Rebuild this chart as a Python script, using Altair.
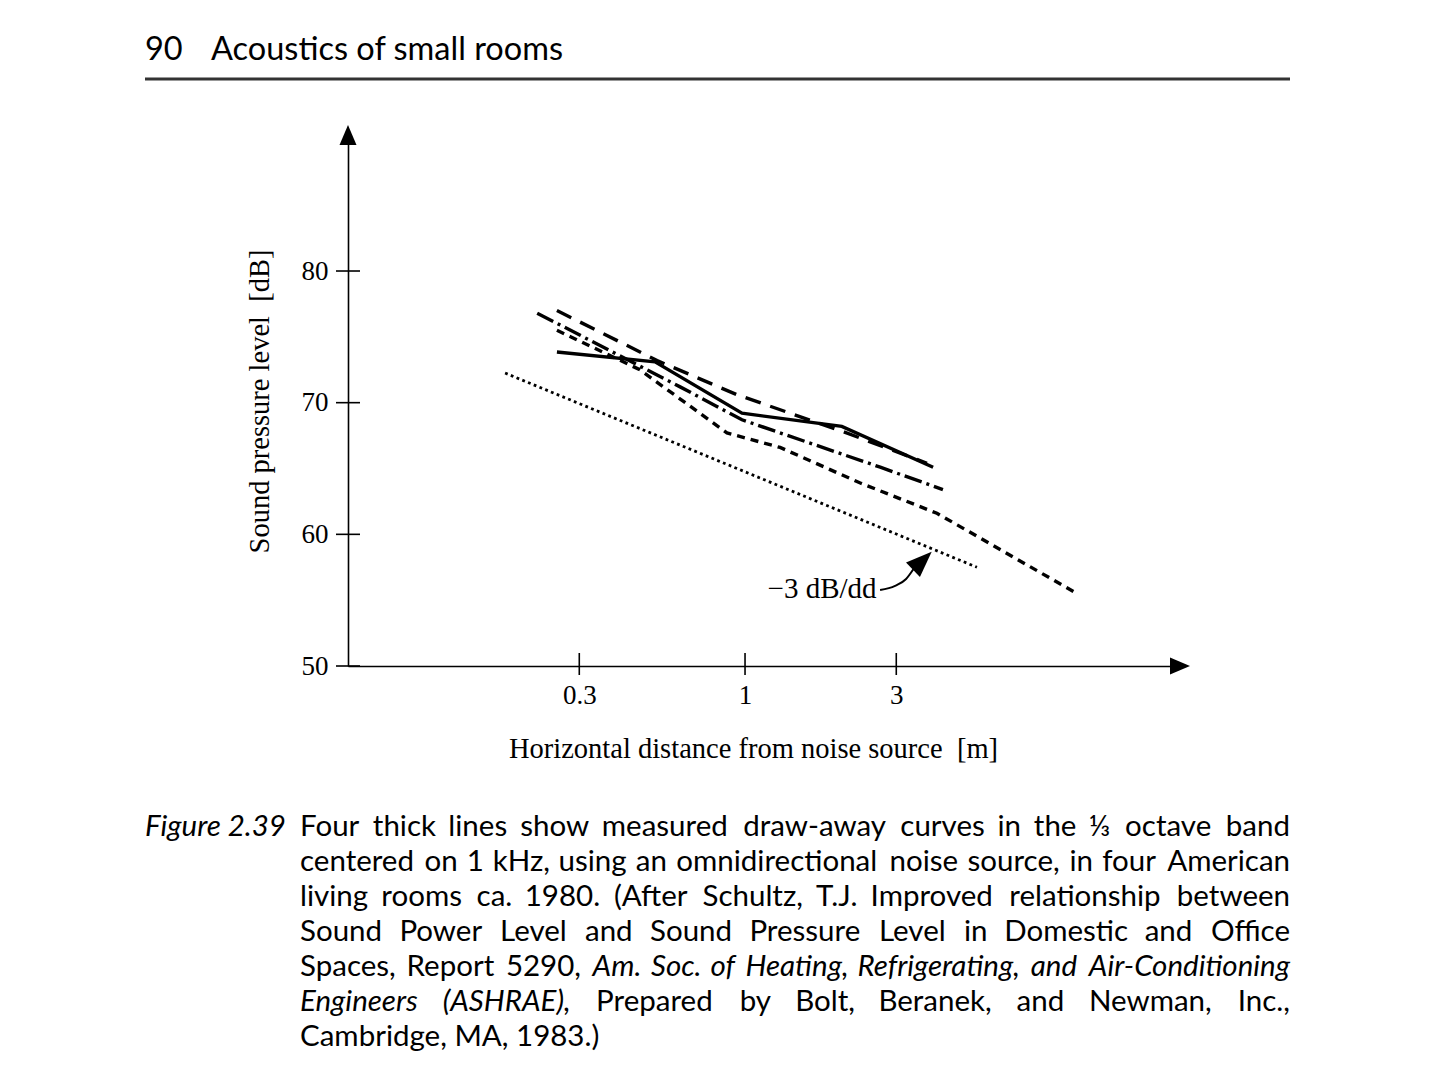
import altair as alt
import pandas as pd

# ---------------- data ----------------
solid_x = [0.255, 0.52, 0.978, 2.02, 3.92]
solid_y = [73.85, 73.1, 69.2, 68.2, 65.1]

longdash_x = [0.255, 0.528, 0.944, 2.04, 3.75]
longdash_y = [77.0, 73.2, 70.6, 67.8, 65.4]

dashdot_x = [0.221, 0.624, 0.978, 2.67, 4.21]
dashdot_y = [76.8, 71.2, 68.7, 65.1, 63.4]

shortdash_x = [0.255, 0.466, 0.877, 1.29, 2.31, 4.03, 11.15]
shortdash_y = [75.5, 72.5, 67.7, 66.6, 63.9, 61.6, 55.5]

# -3 dB per distance doubling reference line
ref_x = [0.175, 5.39]
ref_y = [72.25, 57.5]

# annotation
note_text = "\u22123 dB/dd"
note_x = [1.75]
note_y = [55.17]
curve_x = [2.667, 2.974, 3.221, 3.396]
curve_y = [55.77, 56.08, 56.61, 57.35]
head_x = [3.625]
head_y = [58.0]

x_ticks = [0.3, 1, 3]
y_ticks = [50, 60, 70, 80]

x_title = "Horizontal distance from noise source \u00a0[m]"
y_title = "Sound pressure level \u00a0[dB]"

header_num = "90"
header_text = "Acoustics of small rooms"
fig_label = "Figure 2.39"
# caption: each visual line is a list of (text, italic) segments
caption_lines = [
    [("Four thick lines show measured draw-away curves in the \u2153 octave band", False)],
    [("centered on 1 kHz, using an omnidirectional noise source, in four American", False)],
    [("living rooms ca. 1980. (After Schultz, T.J. Improved relationship between", False)],
    [("Sound Power Level and Sound Pressure Level in Domestic and Office", False)],
    [("Spaces, Report 5290,", False),
     ("Am. Soc. of Heating, Refrigerating, and Air-Conditioning", True)],
    [("Engineers (ASHRAE),", True),
     ("Prepared by Bolt, Beranek, and Newman, Inc.,", False)],
    [("Cambridge, MA, 1983.)", False)],
]

# ---------------- layout ----------------
X_DOMAIN = [0.05591, 23.56]
Y_DOMAIN = [50, 90.33]
W, H = 832, 531
SERIF = "Liberation Serif"
SANS = "Lato"

xs = alt.Scale(type="log", domain=X_DOMAIN, nice=False)
ys = alt.Scale(domain=Y_DOMAIN, nice=False, zero=False)

ax_x = alt.Axis(values=x_ticks, format="~g", ticks=False, grid=False,
                domainColor="black", domainWidth=1.6,
                labelFont=SERIF, labelFontSize=27, labelColor="black",
                labelPadding=16, labelFlush=False,
                title=x_title, titleFont=SERIF, titleFontSize=28.5,
                titleFontWeight="normal", titleColor="black",
                titleX=405, titleY=91, titleBaseline="alphabetic")
ax_y = alt.Axis(values=y_ticks, ticks=False, grid=False,
                domainColor="black", domainWidth=1.6,
                labelFont=SERIF, labelFontSize=27, labelColor="black",
                labelPadding=20, labelFlush=False,
                title=y_title, titleFont=SERIF, titleFontSize=28.5,
                titleFontWeight="normal", titleColor="black",
                titleAngle=-90, titleX=-80, titleY=266,
                titleBaseline="alphabetic", titleAlign="center")


def X(field="x"):
    return alt.X(f"{field}:Q", scale=xs, axis=ax_x)


def Y(field="y"):
    return alt.Y(f"{field}:Q", scale=ys, axis=ax_y)


def line_layer(xv, yv, width, dash=None):
    df = pd.DataFrame({"x": xv, "y": yv})
    kw = dict(color="black", strokeWidth=width, strokeCap="butt")
    if dash is not None:
        kw["strokeDash"] = dash
    return alt.Chart(df).mark_line(**kw).encode(x=X(), y=Y())


layers = []
layers.append(line_layer(solid_x, solid_y, 3.4))
layers.append(line_layer(longdash_x, longdash_y, 3.4, [16, 10]))
layers.append(line_layer(dashdot_x, dashdot_y, 3.4, [18, 5, 3, 5]))
layers.append(line_layer(shortdash_x, shortdash_y, 3.4, [8, 6]))
layers.append(line_layer(ref_x, ref_y, 2.8, [2.8, 3.4]))

# cross ticks on the axes
ytick = alt.Chart(pd.DataFrame({"y": y_ticks})).mark_rule(
    color="black", strokeWidth=1.6).encode(y=Y(), x=alt.value(-12), x2=alt.value(12))
xtick = alt.Chart(pd.DataFrame({"x": x_ticks})).mark_rule(
    color="black", strokeWidth=1.6).encode(x=X(), y=alt.value(H - 13), y2=alt.value(H + 9))
layers += [ytick, xtick]

# axis arrowheads
AXIS_ARROW = "M0,-1L0.85,1L-0.85,1Z"
yarrow = alt.Chart(pd.DataFrame({"x": [X_DOMAIN[0]], "y": [Y_DOMAIN[1]]})).mark_point(
    shape=AXIS_ARROW, filled=True, size=400, color="black", opacity=1, strokeWidth=0
).encode(x=X(), y=Y())
xarrow = alt.Chart(pd.DataFrame({"x": [X_DOMAIN[1]], "y": [Y_DOMAIN[0]]})).mark_point(
    shape=AXIS_ARROW, filled=True, size=400, color="black", opacity=1, strokeWidth=0, angle=90
).encode(x=X(), y=Y())
layers += [yarrow, xarrow]

# annotation: text + curved arrow
note = alt.Chart(pd.DataFrame({"x": note_x, "y": note_y, "t": [note_text]})).mark_text(
    font=SERIF, fontSize=29, color="black", align="center", baseline="alphabetic"
).encode(x=X(), y=Y(), text="t:N")
curve = alt.Chart(pd.DataFrame({"x": curve_x, "y": curve_y})).mark_line(
    color="black", strokeWidth=2, interpolate="monotone"
).encode(x=X(), y=Y())
head = alt.Chart(pd.DataFrame({"x": head_x, "y": head_y})).mark_point(
    shape="M0,-1L0.77,1L-0.77,1Z", filled=True, size=676, color="black",
    opacity=1, strokeWidth=0, angle=46
).encode(x=X(), y=Y())
layers += [note, curve, head]


# ---------------- page header and caption ----------------
def txt(t, px, py, size, style="normal", align="left", font=SANS):
    return alt.Chart(pd.DataFrame({"t": [t]})).mark_text(
        font=font, fontSize=size, fontStyle=style, color="black",
        align=align, baseline="alphabetic"
    ).encode(x=alt.value(px), y=alt.value(py), text="t:N")


HDR = 32.5
layers.append(txt(header_num, -203, -75, HDR))
layers.append(txt(header_text, -137, -75, HDR))
layers.append(alt.Chart(pd.DataFrame({"a": [0]})).mark_rule(color="#333333", strokeWidth=3).encode(
    x=alt.value(-203), x2=alt.value(942), y=alt.value(-56)))

# approximate glyph advances (em) of Lato, used only to justify caption lines
EM = dict(zip("abcdefghijklmnopqrstuvwxyz",
              [.50, .56, .46, .56, .52, .32, .50, .56, .24, .24, .50, .24, .84,
               .56, .56, .56, .56, .36, .42, .34, .56, .50, .76, .48, .50, .44]))
EM.update(zip("ABCDEFGHIJKLMNOPQRSTUVWXYZ",
              [.66, .62, .68, .74, .55, .53, .72, .74, .28, .38, .64, .50, .88,
               .74, .80, .60, .80, .62, .52, .58, .72, .66, .98, .64, .60, .62]))
EM.update({c: .58 for c in "0123456789"})
EM.update({",": .22, ".": .22, "(": .32, ")": .32, "-": .36, "/": .40,
           "\u2153": .80, ":": .24})
SPACE = .193


def est_em(s):
    return sum(EM.get(c, .55) for c in s)


def line_em(s):
    return sum(est_em(w) for w in s.split()) + SPACE * (len(s.split()) - 1)


# calibration against measured widths of Lato at 27 px (earlier render)
cal_reg = [(caption_lines[i][0][0], m) for i, m in [(0, 843), (1, 882), (2, 849), (3, 812)]]
f_reg = sum(m / 27 / line_em(s) for s, m in cal_reg) / len(cal_reg)
cal_it = [("Am. Soc. of Heating, Refrigerating, and Air-Conditioning", 620),
          ("Engineers (ASHRAE)", 225)]
f_it = sum(m / 27 / line_em(s) for s, m in cal_it) / len(cal_it)

CAP = 29.5
L0 = -48          # left edge of caption text block (px, relative to plot)
R0 = 942          # right edge of caption text block
base = 701
step = 35
layers.append(txt(fig_label, -203, base, CAP, "italic"))

for li, segs in enumerate(caption_lines):
    py = base + li * step
    words = [(w, it) for s, it in segs for w in s.split()]
    last = li == len(caption_lines) - 1
    if last:
        for s, it in segs:
            layers.append(txt(s, L0, py, CAP, "italic" if it else "normal"))
        continue
    widths = [est_em(w) * CAP * (f_it if it else f_reg) for w, it in words]
    gap = (R0 - L0 - sum(widths)) / (len(words) - 1)
    xpos = L0
    for k, ((w, it), wd) in enumerate(zip(words, widths)):
        style = "italic" if it else "normal"
        if k == len(words) - 1:
            layers.append(txt(w, R0, py, CAP, style, "right"))
        else:
            layers.append(txt(w, round(xpos, 1), py, CAP, style))
        xpos += wd + gap

chart = alt.layer(*layers).properties(
    width=W, height=H,
    padding={"left": 340, "top": 127, "right": 260, "bottom": 394},
    autosize=alt.AutoSizeParams(type="none"),
    background="white",
).configure_view(stroke=None)

chart.save("out.html", embed_options={"renderer": "svg", "actions": False})
